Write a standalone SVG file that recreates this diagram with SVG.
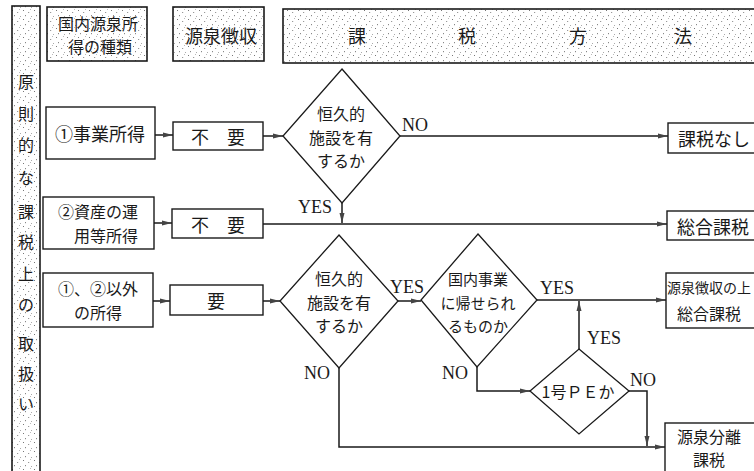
<svg xmlns="http://www.w3.org/2000/svg" width="754" height="471" viewBox="0 0 754 471">
<style>
.b{fill:#fff;stroke:#1a1a1a;stroke-width:1.4}
.h{fill:url(#dots);stroke:#1a1a1a;stroke-width:1.6}
.d{fill:#fff;stroke:#1a1a1a;stroke-width:1.3}
.c{fill:none;stroke:#1a1a1a;stroke-width:1.5}
.j{font-family:"Noto Sans CJK JP","Noto Sans",sans-serif;fill:#1a1a1a;text-anchor:middle;dominant-baseline:central}
.t18{font-size:18px}
.t16{font-size:16px}
.t15{font-size:15px}
.t14{font-size:14px}
.e{font-family:"Liberation Serif","Times New Roman",serif;font-size:18px;fill:#1a1a1a;text-anchor:middle;dominant-baseline:central}
</style>
<defs>
<pattern id="dots" width="11" height="9" patternUnits="userSpaceOnUse">
<rect width="11" height="9" fill="#fff"/>
<rect x="1" y="1" width="1" height="1" fill="#777"/>
<rect x="6" y="3" width="1.2" height="1" fill="#999"/>
<rect x="3" y="6" width="1" height="1.2" fill="#888"/>
<rect x="9" y="7" width="1" height="1" fill="#aaa"/>
<rect x="8" y="0" width="1" height="1" fill="#bbb"/>
</pattern>
<marker id="ah" viewBox="0 0 10 6" refX="10" refY="3" markerWidth="10" markerHeight="6" orient="auto" markerUnits="userSpaceOnUse"><path d="M0,0.5 L10,3 L0,5.5 z" fill="#444"/></marker>
</defs>
<rect width="754" height="471" fill="#fff"/>

<g id="side">
<rect class="h" x="12" y="6" width="28" height="470"/>
<text class="j t16" x="26" y="81">原</text>
<text class="j t16" x="26" y="113">則</text>
<text class="j t16" x="26" y="144">的</text>
<text class="j t16" x="26" y="177">な</text>
<text class="j t16" x="26" y="211">課</text>
<text class="j t16" x="26" y="241">税</text>
<text class="j t16" x="26" y="273">上</text>
<text class="j t16" x="26" y="304">の</text>
<text class="j t16" x="26" y="343">取</text>
<text class="j t16" x="26" y="373">扱</text>
<text class="j t16" x="26" y="403">い</text>
</g>

<g id="hdr1">
<rect class="h" x="47" y="7" width="100" height="54"/>
<text class="j t16" x="98" y="23">国内源泉所</text>
<text class="j t16" x="100" y="46">得の種類</text>
</g>
<g id="hdr2">
<rect class="h" x="173" y="7" width="91" height="54"/>
<text class="j t18" x="221" y="35">源泉徴収</text>
</g>
<g id="hdr3">
<rect class="h" x="283" y="9" width="480" height="54"/>
<text class="j t18" x="357" y="35">課</text>
<text class="j t18" x="467" y="35">税</text>
<text class="j t18" x="578" y="35">方</text>
<text class="j t18" x="683" y="35">法</text>
</g>

<g id="inc1">
<rect class="b" x="46" y="107" width="109" height="52"/>
<text class="j t18" x="100" y="133">①事業所得</text>
</g>
<g id="wh1">
<rect class="b" x="173" y="122" width="90" height="28"/>
<text class="j t18" x="218" y="136" xml:space="preserve">不　要</text>
</g>
<g id="q1">
<polygon class="d" points="342,69 400,136 342,203 283,136"/>
<text class="j t16" x="341" y="113">恒久的</text>
<text class="j t16" x="341" y="137">施設を有</text>
<text class="j t16" x="341" y="160">するか</text>
</g>
<g id="r1">
<rect class="b" x="668" y="123" width="100" height="30"/>
<text class="j t18" x="714" y="138">課税なし</text>
</g>

<g id="inc2">
<rect class="b" x="43" y="197" width="111" height="52"/>
<text class="j t16" x="98" y="211">②資産の運</text>
<text class="j t16" x="106" y="235">用等所得</text>
</g>
<g id="wh2">
<rect class="b" x="172" y="209" width="91" height="29"/>
<text class="j t18" x="218" y="224" xml:space="preserve">不　要</text>
</g>
<g id="r2">
<rect class="b" x="667" y="211" width="100" height="29"/>
<text class="j t18" x="713" y="226">総合課税</text>
</g>

<g id="inc3">
<rect class="b" x="43" y="273" width="110" height="54"/>
<text class="j t17 t16" x="98" y="288">①、②以外</text>
<text class="j t16" x="98" y="312">の所得</text>
</g>
<g id="wh3">
<rect class="b" x="170" y="285" width="93" height="30"/>
<text class="j t18" x="216" y="300">要</text>
</g>
<g id="q2">
<polygon class="d" points="339,235 398,301 339,368 280,301"/>
<text class="j t16" x="339" y="278">恒久的</text>
<text class="j t16" x="339" y="302">施設を有</text>
<text class="j t16" x="339" y="325">するか</text>
</g>
<g id="q3">
<polygon class="d" points="478,234 537,300 477,367 421,300"/>
<text class="j t15" x="478" y="278">国内事業</text>
<text class="j t15" x="478" y="302">に帰せられ</text>
<text class="j t15" x="478" y="325">るものか</text>
</g>
<g id="q4">
<polygon class="d" points="579,349 629,391 579,434 530,391"/>
<text class="j t16" x="578" y="391">1号ＰＥか</text>
</g>
<g id="r3">
<rect class="b" x="666" y="273" width="100" height="55"/>
<text class="j t14" x="709" y="287">源泉徴収の上</text>
<text class="j t16" x="709" y="313">総合課税</text>
</g>
<g id="r4">
<rect class="b" x="665" y="423" width="100" height="60"/>
<text class="j t16" x="709" y="436">源泉分離</text>
<text class="j t16" x="709" y="459">課税</text>
</g>

<g id="connectors">
<line class="c" x1="155" y1="135" x2="173" y2="135" marker-end="url(#ah)"/>
<line class="c" x1="263" y1="136" x2="283" y2="136" marker-end="url(#ah)"/>
<line class="c" x1="400" y1="136" x2="668" y2="136" marker-end="url(#ah)"/>
<line class="c" x1="342" y1="203" x2="342" y2="223" marker-end="url(#ah)"/>
<line class="c" x1="154" y1="223" x2="172" y2="223" marker-end="url(#ah)"/>
<line class="c" x1="263" y1="224" x2="667" y2="224" marker-end="url(#ah)"/>
<line class="c" x1="153" y1="301" x2="170" y2="301" marker-end="url(#ah)"/>
<line class="c" x1="263" y1="301" x2="280" y2="301" marker-end="url(#ah)"/>
<line class="c" x1="398" y1="301" x2="421" y2="301" marker-end="url(#ah)"/>
<line class="c" x1="537" y1="300" x2="666" y2="300" marker-end="url(#ah)"/>
<line class="c" x1="579" y1="349" x2="579" y2="301" marker-end="url(#ah)"/>
<path class="c" d="M477,367 V391 H530" marker-end="url(#ah)"/>
<path class="c" d="M629,391 H647 V446" marker-end="url(#ah)"/>
<path class="c" d="M339,368 V447 H665" marker-end="url(#ah)"/>
<text class="e" x="415" y="125">NO</text>
<text class="e" x="315" y="207">YES</text>
<text class="e" x="407" y="287">YES</text>
<text class="e" x="317" y="373">NO</text>
<text class="e" x="557" y="288">YES</text>
<text class="e" x="455" y="373">NO</text>
<text class="e" x="604" y="338">YES</text>
<text class="e" x="643" y="380">NO</text>
</g>
</svg>
